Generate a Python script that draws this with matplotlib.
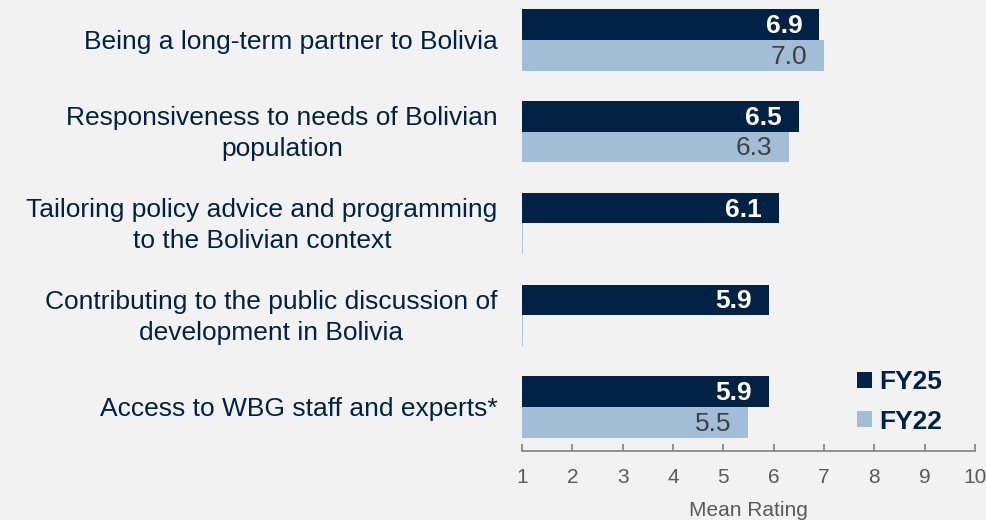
import matplotlib
matplotlib.use("Agg")
import matplotlib.pyplot as plt
import matplotlib.transforms as mtransforms
import numpy as np
from matplotlib.patches import Patch

categories = [
    "Being a long-term partner to Bolivia",
    "Responsiveness to needs of Bolivian\npopulation",
    "Tailoring policy advice and programming\nto the Bolivian context",
    "Contributing to the public discussion of\ndevelopment in Bolivia",
    "Access to WBG staff and experts*",
]
fy25 = [6.9, 6.5, 6.1, 5.9, 5.9]
fy22 = [7.0, 6.3, None, None, 5.5]
series_names = ["FY25", "FY22"]
xticks = [1, 2, 3, 4, 5, 6, 7, 8, 9, 10]

NAVY = "#012244"
LIGHT = "#A2BDD6"
BG = "#F2F2F2"
TEXT = "#002244"
GRAY = "#595959"

plt.rcParams["font.family"] = ["Liberation Sans", "DejaVu Sans"]

fig = plt.figure(figsize=(9.87, 5.2), dpi=100, facecolor=BG)
ax = fig.add_axes([0.5289, 0.1327, 0.4589, 0.8673])
ax.set_facecolor(BG)

y = np.arange(len(categories))
h = 0.333
base = 1.0

fy25_w = [v - base for v in fy25]
ax.barh(y - h / 2, fy25_w, height=h, left=base, color=NAVY, edgecolor="none")
fy22_w = [(v - base) if v is not None else 0 for v in fy22]
for yi, v, w in zip(y, fy22, fy22_w):
    if v is None:
        ax.barh(yi + h / 2, w, height=h, left=base, color=LIGHT,
                edgecolor=LIGHT, linewidth=1.2)
    else:
        ax.barh(yi + h / 2, w, height=h, left=base, color=LIGHT, edgecolor="none")

for yi, v in zip(y, fy25):
    ax.annotate(f"{v:.1f}", xy=(v, yi - h / 2), xytext=(-12, -1),
                textcoords="offset points", ha="right", va="center",
                color="white", fontsize=19, fontweight="bold")
for yi, v in zip(y, fy22):
    if v is not None:
        ax.annotate(f"{v:.1f}", xy=(v, yi + h / 2), xytext=(-12, -1),
                    textcoords="offset points", ha="right", va="center",
                    color="#404040", fontsize=19)

ax.set_xlim(1, 10)
ax.set_ylim(4.48, -0.436)
ax.set_xticks(xticks)
ax.set_xticklabels([str(t) for t in xticks], color=GRAY, fontsize=15)
ax.tick_params(axis="x", direction="in", length=5, width=1.2, color="#808080", pad=12)
ax.set_yticks(y)
ax.set_yticklabels(categories, fontsize=19, color=TEXT, multialignment="center",
                   linespacing=1.38, va="center")
ax.tick_params(axis="y", length=0, pad=17.5)
shift = mtransforms.ScaledTranslation(0, -2 / 100, fig.dpi_scale_trans)
for lbl in ax.get_yticklabels():
    lbl.set_transform(lbl.get_transform() + shift)
for s in ["top", "right", "left"]:
    ax.spines[s].set_visible(False)
ax.spines["bottom"].set_color("#808080")
ax.spines["bottom"].set_linewidth(1.2)
ax.set_xlabel("Mean Rating", color=GRAY, fontsize=15, labelpad=10)

handles = [Patch(facecolor=NAVY), Patch(facecolor=LIGHT)]
leg = ax.legend(handles, series_names, loc="upper left", bbox_to_anchor=(0.699, 0.22),
                frameon=False, prop={"size": 19, "weight": "bold"},
                handlelength=0.55, handleheight=0.55, handletextpad=0.3,
                labelspacing=0.58, borderpad=0.2)
for t in leg.get_texts():
    t.set_color(TEXT)

fig.savefig("out.png", dpi=100, facecolor=BG)
